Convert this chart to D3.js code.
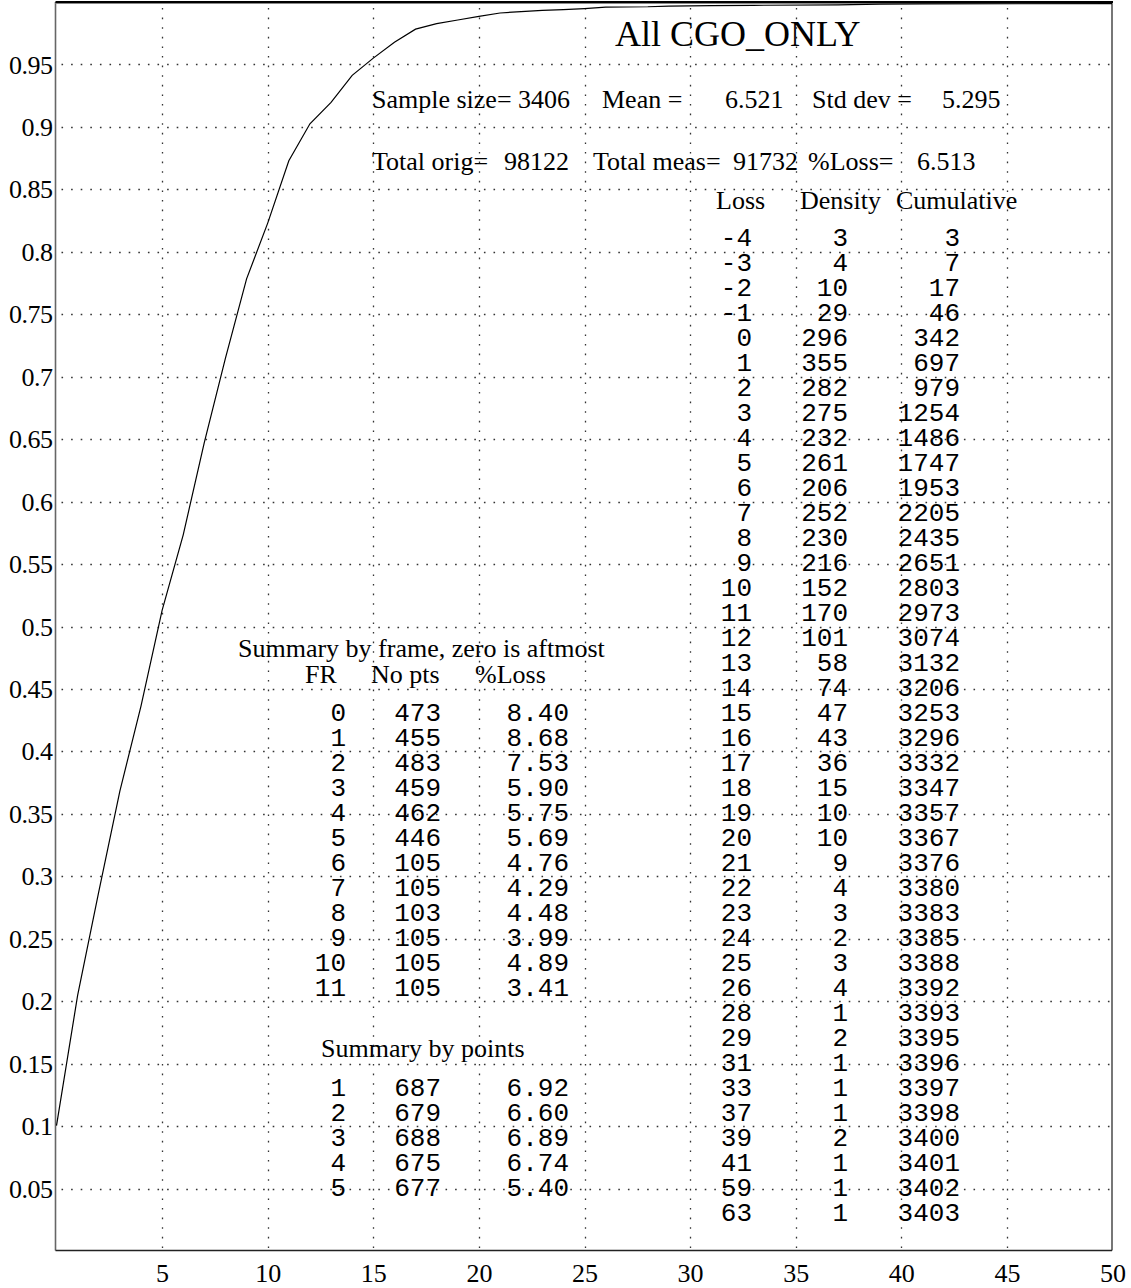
<!DOCTYPE html>
<html><head><meta charset="utf-8">
<script src="https://cdn.jsdelivr.net/npm/d3@7"></script>
<style>
html,body{margin:0;padding:0;background:#fff;}
svg{display:block;}
.serif{font-family:"Liberation Serif","Times New Roman",serif;fill:#000;}
.mono{font-family:"Liberation Mono","Courier New",monospace;fill:#000;}
</style></head>
<body>
<script>
// ---- data ----
const lossVals = [-4,-3,-2,-1,0,1,2,3,4,5,6,7,8,9,10,11,12,13,14,15,16,17,18,19,20,21,22,23,24,25,26,28,29,31,33,37,39,41,59,63];
const density = [3,4,10,29,296,355,282,275,232,261,206,252,230,216,152,170,101,58,74,47,43,36,15,10,10,9,4,3,2,3,4,1,2,1,1,1,2,1,1,1];
const cumulative = [3,7,17,46,342,697,979,1254,1486,1747,1953,2205,2435,2651,2803,2973,3074,3132,3206,3253,3296,3332,3347,3357,3367,3376,3380,3383,3385,3388,3392,3393,3395,3396,3397,3398,3400,3401,3402,3403];
const sampleSize = 3406;
const frames = [0,1,2,3,4,5,6,7,8,9,10,11];
const frameNoPts = [473,455,483,459,462,446,105,105,103,105,105,105];
const framePctLoss = ["8.40","8.68","7.53","5.90","5.75","5.69","4.76","4.29","4.48","3.99","4.89","3.41"];
const points = [1,2,3,4,5];
const pointNoPts = [687,679,688,675,677];
const pointPctLoss = ["6.92","6.60","6.89","6.74","5.40"];
const xTicks = [5,10,15,20,25,30,35,40,45,50];
const yTicks = [0.05,0.1,0.15,0.2,0.25,0.3,0.35,0.4,0.45,0.5,0.55,0.6,0.65,0.7,0.75,0.8,0.85,0.9,0.95];
const titleText = "All CGO_ONLY";

// ---- layout ----
const W = 1131, H = 1288;
const svg = d3.select("body").append("svg").attr("width", W).attr("height", H);
const x = d3.scaleLinear().domain([0, 50]).range([56.5, 1112.5]);
const y = d3.scaleLinear().domain([0, 1]).range([1251, 2]);
const pL = 55.5, pR = 1112, pT = 2, pB = 1250.5;

svg.append("defs").append("clipPath").attr("id", "clip")
  .append("rect").attr("x", pL).attr("y", pT).attr("width", pR - pL).attr("height", pB - pT);

// grid
const grid = svg.append("g").attr("stroke", "#333").attr("stroke-width", 1.3).attr("stroke-dasharray", "1.6 8");
grid.selectAll("line.h").data(yTicks).join("line").attr("class", "h")
  .attr("x1", pL + 6).attr("x2", pR).attr("y1", d => Math.round(y(d)) + 0.5).attr("y2", d => Math.round(y(d)) + 0.5);
grid.selectAll("line.v").data(xTicks.filter(d => d < 50)).join("line").attr("class", "v")
  .attr("y1", pT + 6).attr("y2", pB).attr("x1", d => Math.round(x(d)) + 0.5).attr("x2", d => Math.round(x(d)) + 0.5);

// axes via d3
const yAxis = d3.axisLeft(y).tickValues(yTicks).tickSize(0).tickPadding(3).tickFormat(d => String(+d.toFixed(2)));
const gy = svg.append("g").attr("transform", `translate(${pL},0)`).call(yAxis);
gy.select(".domain").remove();
gy.selectAll("text").attr("font-size", 26).attr("dy", "0.33em")
  .attr("font-family", "Liberation Serif").attr("fill", "#000").attr("letter-spacing", "-0.5");

const xAxis = d3.axisBottom(x).tickValues(xTicks).tickSize(0).tickPadding(0).tickFormat(d3.format("d"));
const gx = svg.append("g").attr("transform", `translate(0,${pB})`).call(xAxis);
gx.select(".domain").remove();
gx.selectAll("text").attr("font-size", 26).attr("font-family", "Liberation Serif").attr("fill", "#000").attr("dy", 0).attr("y", 31);

// frame
svg.append("line").attr("x1", pL).attr("x2", pL).attr("y1", pT).attr("y2", pB).attr("stroke", "#666").attr("stroke-width", 1.6);
svg.append("line").attr("x1", pR).attr("x2", pR).attr("y1", pT).attr("y2", pB).attr("stroke", "#777").attr("stroke-width", 2);
svg.append("line").attr("x1", pL).attr("x2", pR).attr("y1", pB).attr("y2", pB).attr("stroke", "#222").attr("stroke-width", 1.5);
svg.append("line").attr("x1", pL).attr("x2", pR + 1).attr("y1", pT + 1.5).attr("y2", pT + 1.5).attr("stroke", "#888").attr("stroke-width", 1);
svg.append("line").attr("x1", pL).attr("x2", pR + 1).attr("y1", pT).attr("y2", pT).attr("stroke", "#000").attr("stroke-width", 2);

// curve
const curveData = lossVals.map((l, i) => ({l, c: cumulative[i] / sampleSize})).filter(d => d.l >= 0);
svg.append("path").datum(curveData).attr("clip-path", "url(#clip)")
  .attr("fill", "none").attr("stroke", "#000").attr("stroke-width", 1.2)
  .attr("d", d3.line().x(d => x(d.l)).y(d => y(d.c)));

// texts
function serif(t, px, py, size) {
  svg.append("text").attr("class", "serif").attr("x", px).attr("y", py).attr("font-size", size || 26).text(t);
}
function mono(t, px, py) {
  svg.append("text").attr("class", "mono").attr("x", px).attr("y", py).attr("font-size", 26).attr("text-anchor", "end").text(t);
}
serif(titleText, 615, 46, 36);
serif("Sample size= 3406", 372, 108);
serif("Mean =", 602, 108);
serif("6.521", 725, 108);
serif("Std dev =", 812, 108);
serif("5.295", 942, 108);
serif("Total orig=", 372, 170);
serif("98122", 504, 170);
serif("Total meas=", 593, 170);
serif("91732", 733, 170);
serif("%Loss=", 808, 170);
serif("6.513", 917, 170);
serif("Loss", 716, 209);
serif("Density", 800, 209);
serif("Cumulative", 896, 209);

lossVals.forEach((l, i) => {
  const by = 246 + i * 25;
  mono(String(l), 752, by);
  mono(String(density[i]), 848, by);
  mono(String(cumulative[i]), 960, by);
});

serif("Summary by frame, zero is aftmost", 238, 657);
serif("FR", 305, 683);
serif("No pts", 371, 683);
serif("%Loss", 475, 683);
frames.forEach((f, i) => {
  const by = 721 + i * 25;
  mono(String(f), 346, by);
  mono(String(frameNoPts[i]), 441, by);
  mono(framePctLoss[i], 569, by);
});

serif("Summary by points", 321, 1057);
points.forEach((p, i) => {
  const by = 1096 + i * 25;
  mono(String(p), 346, by);
  mono(String(pointNoPts[i]), 441, by);
  mono(pointPctLoss[i], 569, by);
});
</script>
</body></html>
